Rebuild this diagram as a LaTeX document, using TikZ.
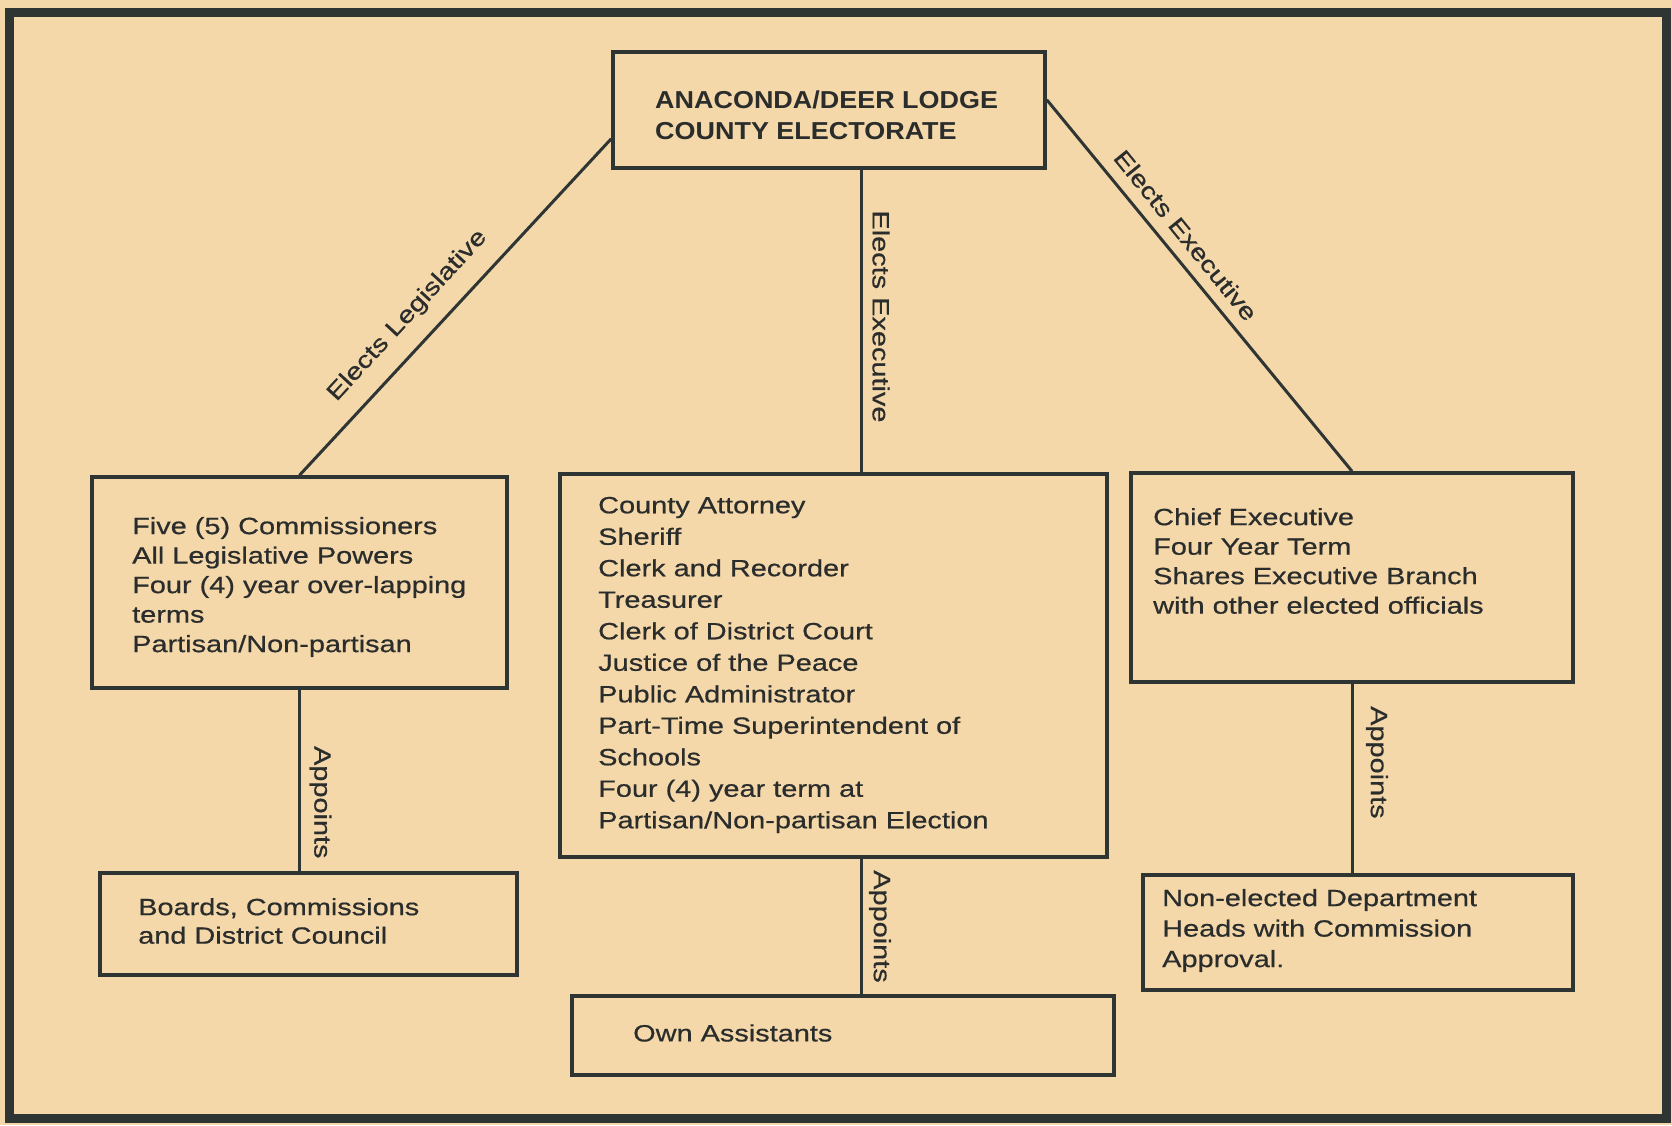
\documentclass[tikz,border=0pt]{standalone}
\usepackage{fontspec}
\setmainfont{Liberation Sans}[FakeStretch=1.23, FakeBold=0.6]
\newfontfamily\ttlfont{Liberation Sans}[FakeStretch=1.1]
\usetikzlibrary{calc}
\definecolor{paper}{HTML}{F4D8AA}
\definecolor{ink}{HTML}{2F3533}
\definecolor{txt}{HTML}{2A2D2C}
\begin{document}
\begin{tikzpicture}[x=1pt,y=-1pt,
  box/.style={draw=ink, line width=3.5pt, rectangle, inner sep=0pt},
  body/.style={anchor=west, align=left, inner sep=0pt, text=txt},
  conn/.style={draw=ink, line width=3pt},
  lab/.style={inner sep=0pt, text=txt, font=\fontsize{23.5}{28}\selectfont}]
\fill[paper] (0,0) rectangle (1672,1125);
\useasboundingbox (0,0) rectangle (1672,1125);
\draw[ink, line width=9pt] (9,12) rectangle (1666,1118);
% boxes
\node[box, minimum width=432pt, minimum height=116pt] (top) at (829,110) {};
\node[box, minimum width=415pt, minimum height=211pt] (leg) at (299.5,582.5) {};
\node[box, minimum width=547pt, minimum height=383pt] (ctr) at (833.5,665.5) {};
\node[box, minimum width=442pt, minimum height=209pt] (exe) at (1352,577.5) {};
\node[box, minimum width=417pt, minimum height=102pt] (brd) at (308.5,924) {};
\node[box, minimum width=430pt, minimum height=115pt] (dept) at (1358,932.5) {};
\node[box, minimum width=542pt, minimum height=79pt] (own) at (843,1035.5) {};
% texts
\node[body, font=\ttlfont\bfseries\fontsize{24.5}{31}\selectfont] (topT) at (655,115.5) {ANACONDA/DEER LODGE\\COUNTY ELECTORATE};
\node[body, font=\fontsize{23.5}{29.5}\selectfont] (legT) at (132,587) {Five (5) Commissioners\\All Legislative Powers\\Four (4) year over-lapping\\terms\\Partisan/Non-partisan};
\node[body, font=\fontsize{23.5}{31.5}\selectfont] (ctrT) at (598,665) {County Attorney\\Sheriff\\Clerk and Recorder\\Treasurer\\Clerk of District Court\\Justice of the Peace\\Public Administrator\\Part-Time Superintendent of\\Schools\\Four (4) year term at\\Partisan/Non-partisan Election};
\node[body, font=\fontsize{23.5}{29.5}\selectfont] (exeT) at (1153,561) {Chief Executive\\Four Year Term\\Shares Executive Branch\\with other elected officials};
\node[body, font=\fontsize{23.5}{28.5}\selectfont] (brdT) at (138,921) {Boards, Commissions\\and District Council};
\node[body, font=\fontsize{23.5}{30.5}\selectfont] (deptT) at (1162,930.5) {Non-elected Department\\Heads with Commission\\Approval.};
\node[body, font=\fontsize{23.5}{29.5}\selectfont] (ownT) at (633,1033) {Own Assistants};
% connectors
\coordinate (cx) at (861,0);
\draw[conn] ($(top.south west)+(0,-31)$) -- node[lab, pos=0.58, xshift=-22.75pt, yshift=18.2pt, rotate=47.4] (l1) {Elects Legislative} (leg.north);
\draw[conn] ($(top.south east)+(0,-70)$) -- node[lab, pos=0.401, xshift=16.6pt, yshift=13.4pt, rotate=-50.9] (l2) {Elects Executive} (exe.north);
\draw[conn] (top.south -| cx) -- node[lab, pos=0.485, xshift=20pt, rotate=-90] (l3) {Elects Executive} (ctr.north -| cx);
\draw[conn] (ctr.south -| cx) -- node[lab, pos=0.5, xshift=19pt, rotate=-90] (l4) {Appoints} (own.north -| cx);
\draw[conn] (leg.south) -- node[lab, pos=0.62, xshift=21pt, rotate=-90] (l5) {Appoints} (brd.north -| leg.south);
\draw[conn] (exe.south) -- node[lab, pos=0.415, xshift=25pt, rotate=-90] (l6) {Appoints} (dept.north -| exe.south);
\end{tikzpicture}
\end{document}
